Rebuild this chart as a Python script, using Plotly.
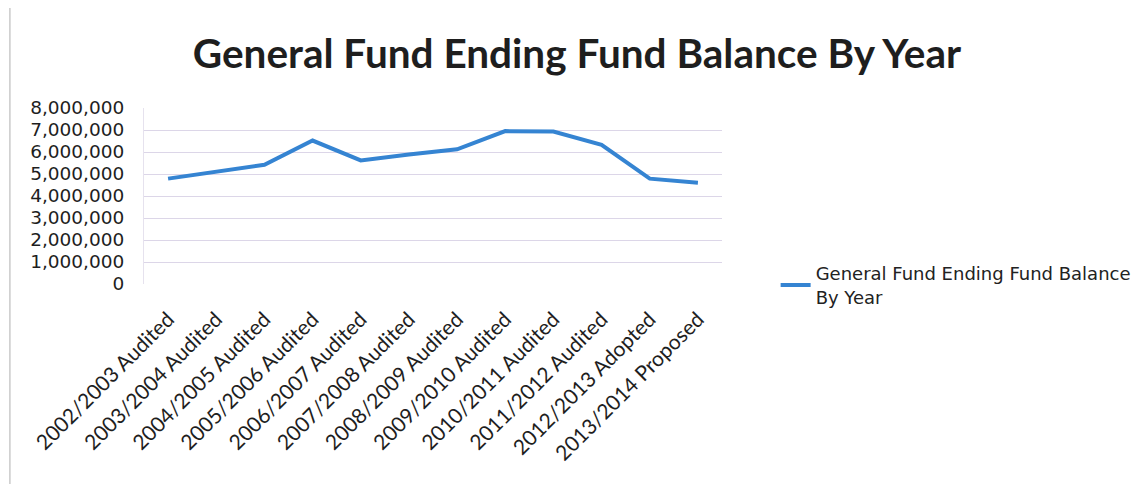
import plotly.graph_objects as go

categories = ["2002/2003 Audited", "2003/2004 Audited", "2004/2005 Audited",
              "2005/2006 Audited", "2006/2007 Audited", "2007/2008 Audited",
              "2008/2009 Audited", "2009/2010 Audited", "2010/2011 Audited",
              "2011/2012 Audited", "2012/2013 Adopted", "2013/2014 Proposed"]
balance = [4790000, 5090000, 5420000, 6520000, 5620000, 5890000,
           6120000, 6950000, 6930000, 6330000, 4790000, 4600000]
y_ticks = [0, 1000000, 2000000, 3000000, 4000000, 5000000, 6000000, 7000000, 8000000]

# page body has an 8px default margin, so figure coords are screen coords minus 8
W, H = 1140, 476
L, R, T, B = 136, 422, 100, 200
pw = W - L - R
ph = H - T - B

fig = go.Figure()
fig.add_trace(go.Scatter(
    x=categories, y=balance, mode="lines",
    name="General Fund Ending Fund Balance<br>By Year",
    line=dict(color="#3584d2", width=4),
))

# thin scan border on the left edge of the chart frame
fig.add_shape(type="line", xref="paper", yref="paper",
              x0=(1 - L) / pw, x1=(1 - L) / pw, y0=-B / ph, y1=(H - T + 8) / ph,
              line=dict(color="#b0b0b0", width=1))

fig.update_layout(
    width=W, height=H,
    paper_bgcolor="white", plot_bgcolor="white",
    margin=dict(l=L, r=R, t=T, b=B),
    title=dict(text="<b>General Fund Ending Fund Balance By Year</b>",
               x=569 / W, xanchor="center", y=1 - 46 / H, yanchor="middle",
               font=dict(family="Lato, Open Sans, sans-serif", size=40.5, color="#1e1e1e")),
    showlegend=True,
    legend=dict(x=(772 - L) / pw, xanchor="left", y=(H - B - 247) / ph, yanchor="top",
                font=dict(family="DejaVu Sans, sans-serif", size=18, color="#222222"),
                bgcolor="rgba(0,0,0,0)", tracegroupgap=0),
    xaxis=dict(type="category", tickangle=-45, range=[-0.5, 11.5],
               tickfont=dict(family="Lato, Open Sans, sans-serif", size=21, color="#1e1e1e"),
               ticklabelstandoff=18,
               showgrid=False, showline=False, ticks=""),
    yaxis=dict(range=[0, 8000000], tickvals=y_ticks, tickformat=",d",
               tickfont=dict(family="DejaVu Sans, sans-serif", size=18.5, color="#1e1e1e"),
               showgrid=True, gridcolor="#dcd6e8", gridwidth=1, zeroline=False,
               showline=True, linecolor="#e6e2ee", linewidth=1, ticks="",
               ticklabelstandoff=15),
)

fig.write_html("out.html")
